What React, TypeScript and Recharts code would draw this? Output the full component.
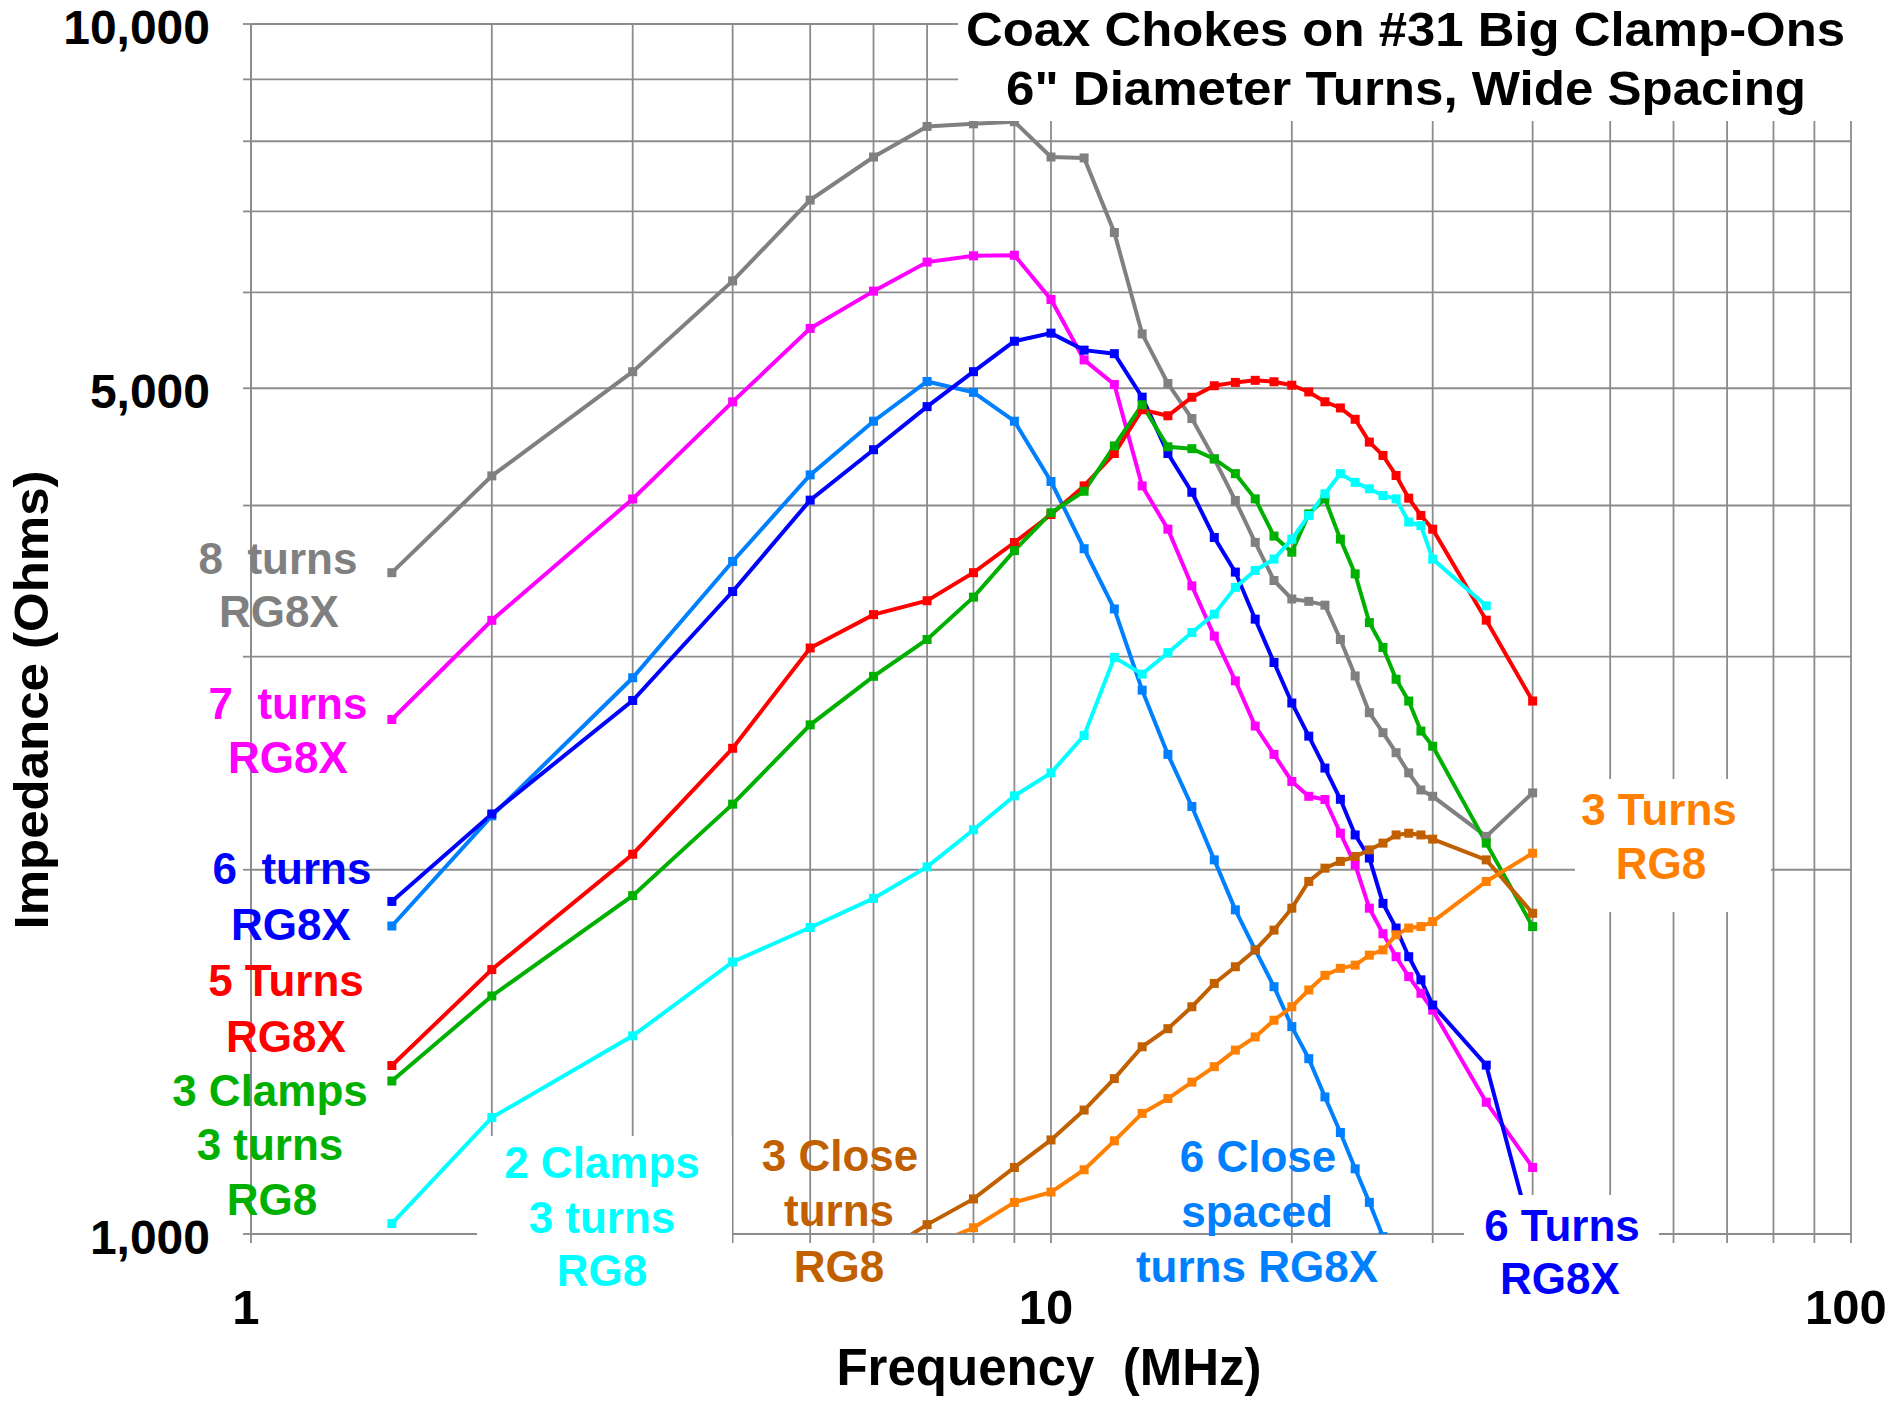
import React from 'react';
import { LineChart, Line, XAxis, YAxis, CartesianGrid } from 'recharts';

// Measurement frequencies (MHz)
const FREQS = [1.5, 2, 3, 4, 5, 6, 7, 8, 9, 10, 11, 12, 13, 14, 15, 16, 17, 18, 19, 20, 21, 22, 23, 24, 25, 26, 27, 28, 29, 30, 35, 40];

const X_TICKS = [1, 2, 3, 4, 5, 6, 7, 8, 9, 10, 20, 30, 40, 50, 60, 70, 80, 90, 100];
const X_LABELED = [1, 10, 100];
const Y_TICKS = [1000, 2000, 3000, 4000, 5000, 6000, 7000, 8000, 9000, 10000];
const Y_LABELED = [1000, 5000, 10000];

// Impedance (Ohms)
const TURNS8_RG8X = [3520, 4232, 5160, 6133, 7153, 7764, 8229, 8270, 8303, 7764, 7750, 6725, 5545, 5045, 4720, 4371, 4038, 3729, 3468, 3348, 3333, 3309, 3100, 2892, 2697, 2596, 2499, 2405, 2328, 2300, 2131, 2315];
const TURNS7_RG8X = [2662, 3215, 4050, 4872, 5603, 6015, 6357, 6433, 6440, 5920, 5277, 5036, 4152, 3824, 3433, 3120, 2865, 2629, 2491, 2366, 2300, 2286, 2144, 2019, 1859, 1771, 1695, 1632, 1581, 1531, 1285, 1135];
const TURNS6_RG8X = [1883, 2224, 2760, 3396, 4041, 4448, 4828, 5160, 5468, 5553, 5376, 5340, 4916, 4416, 4102, 3764, 3524, 3222, 2967, 2747, 2579, 2427, 2287, 2137, 2045, 1876, 1790, 1695, 1622, 1546, 1379, 990];
const CLOSE6_RG8X = [1797, 2216, 2882, 3596, 4240, 4696, 5065, 4961, 4696, 4187, 3684, 3285, 2815, 2491, 2256, 2038, 1853, 1717, 1601, 1484, 1396, 1298, 1213, 1132, 1062, 995];
const TURNS5_RG8X = [1378, 1654, 2060, 2520, 3050, 3250, 3337, 3520, 3728, 3932, 4152, 4416, 4800, 4745, 4915, 5024, 5056, 5076, 5062, 5029, 4965, 4873, 4816, 4713, 4513, 4400, 4235, 4056, 3925, 3824, 3216, 2757];
const CLAMPS3_RG8 = [1338, 1573, 1904, 2266, 2635, 2890, 3100, 3360, 3671, 3945, 4110, 4480, 4845, 4473, 4457, 4371, 4250, 4051, 3774, 3660, 3937, 4051, 3752, 3512, 3201, 3053, 2874, 2757, 2604, 2530, 2104, 1795];
const CLAMPS2_RG8 = [1020, 1248, 1458, 1678, 1792, 1894, 2011, 2158, 2302, 2405, 2582, 2996, 2902, 3023, 3141, 3253, 3423, 3535, 3612, 3752, 3925, 4090, 4250, 4180, 4129, 4077, 4051, 3876, 3850, 3612, 3305];
const CLOSE3_RG8 = [955, 1018, 1069, 1135, 1196, 1266, 1344, 1428, 1478, 1541, 1611, 1663, 1717, 1783, 1859, 1956, 2006, 2032, 2051, 2077, 2104, 2137, 2144, 2137, 2120, 2038, 1841];
const TURNS3_RG8 = [975, 1012, 1062, 1083, 1130, 1194, 1258, 1294, 1335, 1375, 1419, 1455, 1502, 1541, 1591, 1636, 1658, 1668, 1700, 1717, 1767, 1790, 1795, 1812, 1956, 2064];

const toPoints = (startF: number, values: number[]) => {
  const s = FREQS.indexOf(startF);
  return values.map((z, i) => ({ f: FREQS[s + i], z }));
};

const SERIES = [
  { key: 'g8', color: '#808080', data: toPoints(1.5, TURNS8_RG8X) },
  { key: 'm7', color: '#FF00FF', data: toPoints(1.5, TURNS7_RG8X) },
  { key: 'lb6', color: '#0080FF', data: toPoints(1.5, CLOSE6_RG8X) },
  { key: 'b6', color: '#0000FF', data: toPoints(1.5, TURNS6_RG8X) },
  { key: 'r5', color: '#FF0000', data: toPoints(1.5, TURNS5_RG8X) },
  { key: 'g3', color: '#00B000', data: toPoints(1.5, CLAMPS3_RG8) },
  { key: 'c2', color: '#00FFFF', data: toPoints(1.5, CLAMPS2_RG8) },
  { key: 'br3', color: '#C06000', data: toPoints(6, CLOSE3_RG8) },
  { key: 'o3', color: '#FF8000', data: toPoints(7, TURNS3_RG8) },
];

const FONT = "'Liberation Sans', Arial, Helvetica, sans-serif";
const GRID = '#8c8c8c';

const squareDot = (color: string) => (props: any) => {
  const { cx, cy, index } = props;
  if (cx == null || cy == null || isNaN(cx) || isNaN(cy)) return <g key={`e${index}`} />;
  return <rect key={`d${index}`} x={cx - 4.5} y={cy - 4.5} width={9} height={9} fill={color} />;
};

const XTick = (props: any) => {
  const { x, y, payload } = props;
  if (!X_LABELED.includes(payload.value)) return <g />;
  return (
    <text x={x - 5} y={y + 79} textAnchor="middle" fontFamily={FONT} fontWeight="bold" fontSize={49} fill="#000">
      {payload.value}
    </text>
  );
};

const YTick = (props: any) => {
  const { x, y, payload } = props;
  if (!Y_LABELED.includes(payload.value)) return <g />;
  return (
    <text x={x - 31} y={y + 20} textAnchor="end" fontFamily={FONT} fontWeight="bold" fontSize={48} fill="#000">
      {payload.value.toLocaleString('en-US')}
    </text>
  );
};

type Lbl = { text: string; x: number; y: number; color: string };
const LABELS: Lbl[] = [
  { text: '8  turns', x: 278, y: 574, color: '#808080' },
  { text: 'RG8X', x: 279, y: 627, color: '#808080' },
  { text: '7  turns', x: 288, y: 719, color: '#FF00FF' },
  { text: 'RG8X', x: 288, y: 773, color: '#FF00FF' },
  { text: '6  turns', x: 292, y: 884, color: '#0000FF' },
  { text: 'RG8X', x: 291, y: 940, color: '#0000FF' },
  { text: '5 Turns', x: 286, y: 996, color: '#FF0000' },
  { text: 'RG8X', x: 286, y: 1052, color: '#FF0000' },
  { text: '3 Clamps', x: 270, y: 1106, color: '#00B000' },
  { text: '3 turns', x: 270, y: 1160, color: '#00B000' },
  { text: 'RG8', x: 272, y: 1215, color: '#00B000' },
  { text: '2 Clamps', x: 602, y: 1178, color: '#00FFFF' },
  { text: '3 turns', x: 602, y: 1233, color: '#00FFFF' },
  { text: 'RG8', x: 602, y: 1286, color: '#00FFFF' },
  { text: '3 Close', x: 840, y: 1171, color: '#C06000' },
  { text: 'turns', x: 839, y: 1226, color: '#C06000' },
  { text: 'RG8', x: 839, y: 1282, color: '#C06000' },
  { text: '6 Close', x: 1258, y: 1172, color: '#0080FF' },
  { text: 'spaced', x: 1257, y: 1227, color: '#0080FF' },
  { text: 'turns RG8X', x: 1257, y: 1282, color: '#0080FF' },
  { text: '6 Turns', x: 1562, y: 1241, color: '#0000FF' },
  { text: 'RG8X', x: 1560, y: 1294, color: '#0000FF' },
  { text: '3 Turns', x: 1659, y: 825, color: '#FF8000' },
  { text: 'RG8', x: 1661, y: 879, color: '#FF8000' },
];

export default function App() {
  return (
    <div style={{ position: 'absolute', left: 0, top: 0, width: 1893, height: 1404, background: '#fff' }}>
      <div style={{ position: 'absolute', left: 0, top: 0 }}>
        <LineChart width={1893} height={1404} margin={{ top: 24, right: 42, left: 0, bottom: 0 }}>
          <CartesianGrid stroke={GRID} strokeWidth={1.8} fill="none" />
          <XAxis
            type="number"
            dataKey="f"
            scale="log"
            domain={[1, 100]}
            ticks={X_TICKS}
            allowDataOverflow
            interval={0}
            height={170}
            tickSize={9}
            axisLine={{ stroke: GRID, strokeWidth: 1.8 }}
            tickLine={{ stroke: GRID, strokeWidth: 1.8 }}
            tick={<XTick />}
          />
          <YAxis
            type="number"
            dataKey="z"
            scale="log"
            domain={[1000, 10000]}
            ticks={Y_TICKS}
            allowDataOverflow
            interval={0}
            width={251}
            tickSize={8}
            axisLine={{ stroke: GRID, strokeWidth: 1.8 }}
            tickLine={{ stroke: GRID, strokeWidth: 1.8 }}
            tick={<YTick />}
          />
          {SERIES.map((s) => (
            <Line
              key={s.key}
              data={s.data}
              dataKey="z"
              type="linear"
              stroke={s.color}
              strokeWidth={4}
              dot={squareDot(s.color)}
              activeDot={false}
              isAnimationActive={false}
            />
          ))}
        </LineChart>
      </div>
      <svg width={1893} height={1404} style={{ position: 'absolute', left: 0, top: 0, pointerEvents: 'none' }}>
        <rect x={958} y={0} width={935} height={121} fill="#fff" />
        <rect x={477} y={1136} width={255} height={190} fill="#fff" />
        <rect x={1464} y={1195} width={195} height={130} fill="#fff" />
        <rect x={1575} y={779} width={196} height={133} fill="#fff" />
        <text x={966} y={46} fontFamily={FONT} fontWeight="bold" fontSize={49} fill="#000" textLength={879} lengthAdjust="spacingAndGlyphs">
          Coax Chokes on #31 Big Clamp-Ons
        </text>
        <text x={1006} y={105} fontFamily={FONT} fontWeight="bold" fontSize={49} fill="#000" textLength={800} lengthAdjust="spacingAndGlyphs">
          6" Diameter Turns, Wide Spacing
        </text>
        <text
          x={48}
          y={700}
          transform="rotate(-90 48 700)"
          textAnchor="middle"
          fontFamily={FONT}
          fontWeight="bold"
          fontSize={48}
          fill="#000"
          textLength={459}
          lengthAdjust="spacingAndGlyphs"
        >
          Impedance (Ohms)
        </text>
        <text x={1049} y={1385} textAnchor="middle" fontFamily={FONT} fontWeight="bold" fontSize={51} fill="#000" style={{ whiteSpace: 'pre' }}>
          {'Frequency  (MHz)'}
        </text>
        {LABELS.map((l, i) => (
          <text key={i} x={l.x} y={l.y} textAnchor="middle" fontFamily={FONT} fontWeight="bold" fontSize={44} fill={l.color} style={{ whiteSpace: 'pre' }}>
            {l.text}
          </text>
        ))}
      </svg>
    </div>
  );
}
